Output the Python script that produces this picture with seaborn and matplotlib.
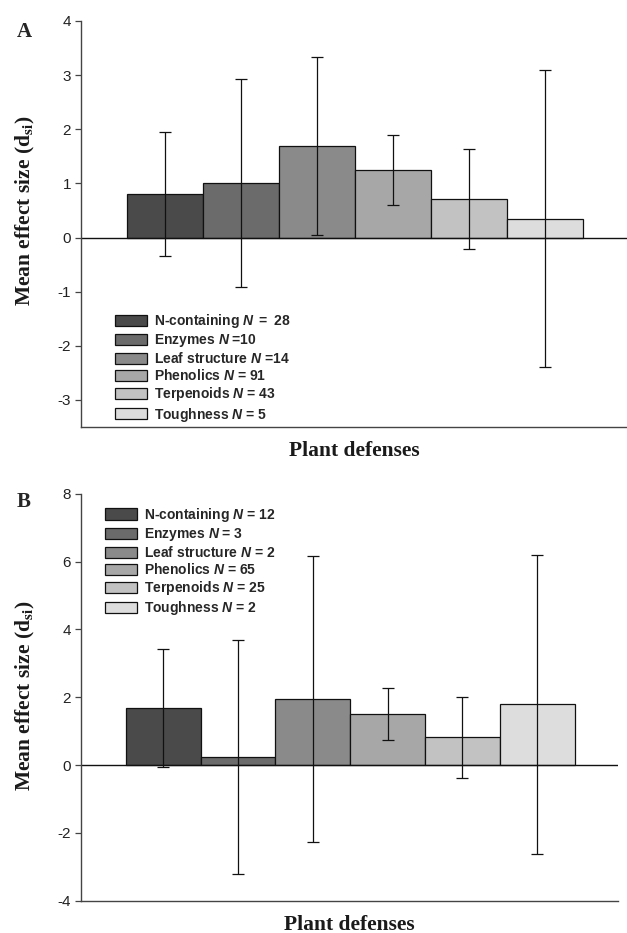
import matplotlib
matplotlib.use("Agg")
from matplotlib import pyplot as plt
import seaborn as sns
import pandas as pd

defenses = ["N-containing", "Enzymes", "Leaf structure", "Phenolics", "Terpenoids", "Toughness"]
greys = ["#4a4a4a", "#6b6b6b", "#8a8a8a", "#a7a7a7", "#c2c2c2", "#dddddd"]

# panel A
mean_a = [0.80, 1.00, 1.69, 1.25, 0.71, 0.35]
ci_a = [1.15, 1.92, 1.64, 0.65, 0.93, 2.75]
n_a = ["$N$ $\\mathit{=\\ 28}$", "$N$ =10", "$N$ =14", "$N$ = 91", "$N$ = 43", "$N$ = 5"]

# panel B
mean_b = [1.69, 0.24, 1.94, 1.50, 0.82, 1.79]
ci_b = [1.74, 3.46, 4.22, 0.76, 1.20, 4.40]
n_b = ["$N$ = 12", "$N$ = 3", "$N$ = 2", "$N$ = 65", "$N$ = 25", "$N$ = 2"]

sns.set_theme(style="ticks")
plt.rcParams["font.family"] = ["Liberation Sans", "DejaVu Sans"]
plt.rcParams["axes.unicode_minus"] = False
plt.rcParams["mathtext.fontset"] = "custom"
plt.rcParams["mathtext.rm"] = "Liberation Sans:bold"
plt.rcParams["mathtext.it"] = "Liberation Sans:italic:bold"
plt.rcParams["mathtext.bf"] = "Liberation Sans:bold"

fig = plt.figure(figsize=(6.27, 9.33), dpi=100)
ax_a = fig.add_axes([0.129, 0.5423, 0.871, 0.4352])
ax_b = fig.add_axes([0.129, 0.0346, 0.8565, 0.4362])


def panel(ax, means, cis, ns, ylim, yticks, legend_loc, ylab_xy):
    df = pd.DataFrame({"defense": defenses, "mean": means})
    sns.barplot(data=df, x="defense", y="mean", hue="defense", palette=greys,
                width=1.0, edgecolor="#111111", linewidth=0.9, legend=True, ax=ax)
    ax.axhline(0, color="#111111", lw=1.0, zorder=1)
    ax.errorbar(range(len(defenses)), means, yerr=cis, fmt="none",
                ecolor="#111111", elinewidth=0.9, capsize=4.3, capthick=0.9, zorder=5)
    ax.set_xlim(-1.1, 6.08)
    ax.set_ylim(*ylim)
    ax.set_yticks(yticks)
    ax.set_yticklabels([str(t) for t in yticks], fontsize=11, color="#222222")
    ax.set_xticks([])
    ax.set_xlabel("Plant defenses", fontsize=15.5, fontweight="bold",
                  family="Liberation Serif", color="#1a1a1a", labelpad=10)
    ax.set_ylabel("Mean effect size (d$_{\\mathbf{si}}$)", fontsize=15.5, fontweight="bold",
                  family="Liberation Serif", color="#1a1a1a",
                  math_fontfamily="stix")
    ax.yaxis.set_label_coords(*ylab_xy)
    ax.tick_params(axis="y", length=4, width=0.9, color="#444444", pad=3)
    for side in ["top", "right"]:
        ax.spines[side].set_visible(False)
    for side in ["left", "bottom"]:
        ax.spines[side].set_color("#444444")
        ax.spines[side].set_linewidth(1.0)
    handles, _ = ax.get_legend_handles_labels()
    labels = [d + " " + n for d, n in zip(defenses, ns)]
    leg = ax.legend(handles, labels, loc="upper left", bbox_to_anchor=legend_loc,
                    frameon=False, fontsize=10, handlelength=2.3, handleheight=0.89,
                    labelspacing=0.15, handletextpad=0.5, borderaxespad=0, borderpad=0)
    for t in leg.get_texts():
        t.set_fontweight("bold")


panel(ax_a, mean_a, ci_a, n_a, (-3.5, 4), [-3, -2, -1, 0, 1, 2, 3, 4],
      (0.0623, 0.283), (-0.0806, 0.534))
panel(ax_b, mean_b, ci_b, n_b, (-4, 8), [-4, -2, 0, 2, 4, 6, 8],
      (0.0447, 0.97), (-0.082, 0.505))

fig.text(17 / 627, 1 - 37 / 933, "A", fontsize=15, fontweight="bold",
         family="Liberation Serif", va="baseline", ha="left")
fig.text(17 / 627, 1 - 506.7 / 933, "B", fontsize=15, fontweight="bold",
         family="Liberation Serif", va="baseline", ha="left")

fig.savefig("out.png", dpi=100)
